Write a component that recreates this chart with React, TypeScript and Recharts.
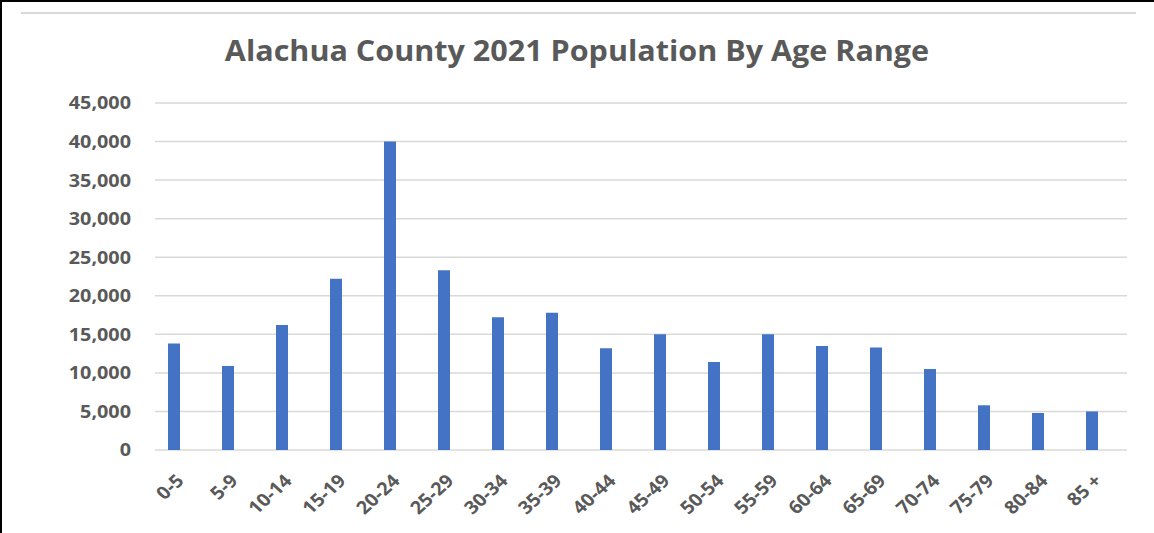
import React from "react";
import { BarChart, Bar, XAxis, YAxis, CartesianGrid } from "recharts";

const categories = ["0-5","5-9","10-14","15-19","20-24","25-29","30-34","35-39","40-44","45-49","50-54","55-59","60-64","65-69","70-74","75-79","80-84","85 +"];
const population = [13800,10900,16200,22200,40000,23300,17200,17800,13200,15000,11400,15000,13500,13300,10500,5800,4800,5000];
const yTicks = [0,5000,10000,15000,20000,25000,30000,35000,40000,45000];

const data = categories.map((c, i) => ({ age: c, value: population[i] }));

const FONT = "'Open Sans', sans-serif";
const TEXT = "#595959";
const SX = 1.1;

const XTick = (props: any) => {
  const { x, y, payload } = props;
  return (
    <g transform={`translate(${x + 11},${y + 32}) scale(${SX},1)`}>
      <text
        x={0}
        y={0}
        textAnchor="end"
        transform="rotate(-45)"
        fill={TEXT}
        fontFamily={FONT}
        fontWeight={700}
        fontSize={18}
      >
        {payload.value}
      </text>
    </g>
  );
};

const YTick = (props: any) => {
  const { x, y, payload } = props;
  return (
    <g transform={`translate(${x},${y}) scale(${SX},1)`}>
      <text x={0} y={0} dy="0.355em" textAnchor="end" fill={TEXT} fontFamily={FONT} fontWeight={700} fontSize={18}>
        {Number(payload.value).toLocaleString("en-US")}
      </text>
    </g>
  );
};

const GridLine = (props: any) => {
  const { x1, x2, y1, y2 } = props;
  return <line key={props.key ?? `${y1}`} x1={x1 + 8} x2={x2 + 8} y1={y1} y2={y2} stroke="#d9d9d9" strokeWidth={1.5} />;
};

export default function App() {
  return (
    <div style={{ position: "fixed", left: 0, top: 0, width: 1154, height: 533, background: "#fff", overflow: "hidden" }}>
      <div style={{ position: "absolute", left: 0, top: 0, width: 1154, height: 2, background: "#000" }} />
      <div style={{ position: "absolute", left: 0, top: 0, width: 2, height: 533, background: "#000" }} />
      <div style={{ position: "absolute", left: 21, top: 12, width: 1115, height: 2, background: "#d9d9d9" }} />
      <div
        style={{
          position: "absolute",
          left: 0,
          width: 1154,
          top: 30,
          textAlign: "center",
          fontFamily: FONT,
          fontWeight: 700,
          fontSize: 28,
          color: TEXT,
          lineHeight: "40px",
          transform: "scaleX(1.09)",
          transformOrigin: "577px 0",
        }}
      >
        Alachua County 2021 Population By Age Range
      </div>
      <div style={{ position: "absolute", left: 0, top: 0 }}>
        <BarChart width={1154} height={533} data={data} margin={{ top: 103, right: 35, left: 0, bottom: 0 }} barCategoryGap={0}>
          <CartesianGrid vertical={false} horizontal={(p: any) => <GridLine {...p} />} />
          <XAxis
            dataKey="age"
            height={83}
            axisLine={false}
            tickLine={false}
            tickSize={0}
            tickMargin={0}
            interval={0}
            tick={<XTick />}
          />
          <YAxis
            width={147}
            domain={[0, 45000]}
            ticks={yTicks}
            axisLine={false}
            tickLine={false}
            tickSize={0}
            tickMargin={16}
            tick={<YTick />}
          />
          <Bar dataKey="value" fill="#4472C4" barSize={12} isAnimationActive={false} />
        </BarChart>
      </div>
    </div>
  );
}
